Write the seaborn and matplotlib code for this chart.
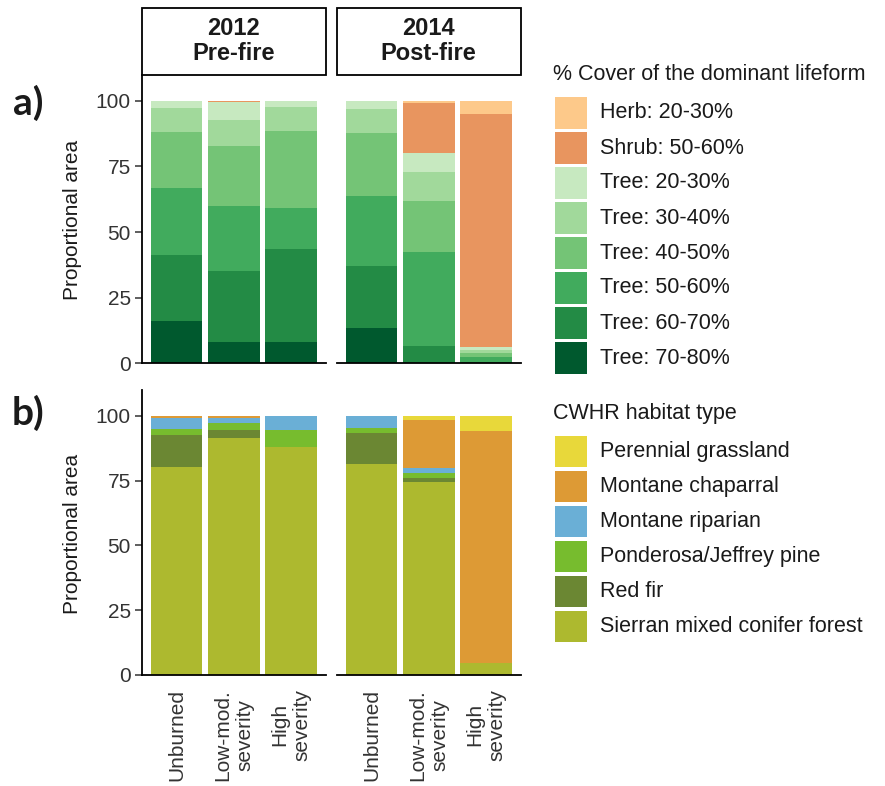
import numpy as np
import pandas as pd
import matplotlib
matplotlib.use("Agg")
import matplotlib.pyplot as plt
import seaborn as sns
from matplotlib.patches import Rectangle

# ---- data -------------------------------------------------------------
severity = ["Unburned", "Low-mod.\nseverity", "High\nseverity"]
periods = ["2012\nPre-fire", "2014\nPost-fire"]

# Each list: 2012 (Unburned, Low-mod., High), then 2014 (Unburned, Low-mod., High)
# (a) % cover of the dominant lifeform, stacking order bottom -> top
lifeform_classes = ["Tree: 70-80%", "Tree: 60-70%", "Tree: 50-60%", "Tree: 40-50%",
                    "Tree: 30-40%", "Tree: 20-30%", "Shrub: 50-60%", "Herb: 20-30%"]
tree_70_80 = [16.2, 8.0, 8.0, 13.6, 0.0, 0.0]
tree_60_70 = [25.2, 27.3, 35.6, 23.7, 6.6, 0.6]
tree_50_60 = [25.5, 24.8, 15.4, 26.4, 35.8, 2.0]
tree_40_50 = [21.4, 22.7, 29.5, 24.2, 19.6, 1.5]
tree_30_40 = [8.9, 9.8, 9.2, 8.9, 10.9, 1.0]
tree_20_30 = [2.8, 6.8, 2.3, 3.2, 7.1, 1.0]
shrub_50_60 = [0.0, 0.6, 0.0, 0.0, 19.0, 88.8]
herb_20_30 = [0.0, 0.0, 0.0, 0.0, 1.0, 5.1]
lifeform_values = [tree_70_80, tree_60_70, tree_50_60, tree_40_50,
                   tree_30_40, tree_20_30, shrub_50_60, herb_20_30]
lifeform_colors = ["#00592e", "#238b45", "#41ab5d", "#74c476",
                   "#a1d99b", "#c7e9c0", "#e8955f", "#fdc98a"]

# (b) CWHR habitat type, stacking order bottom -> top
habitat_classes = ["Sierran mixed conifer forest", "Red fir", "Ponderosa/Jeffrey pine",
                   "Montane riparian", "Montane chaparral", "Perennial grassland"]
sierran_mixed_conifer = [80.4, 91.6, 88.0, 81.3, 74.3, 4.8]
red_fir = [12.2, 3.0, 0.0, 12.0, 1.6, 0.0]
ponderosa_jeffrey = [2.2, 2.6, 6.5, 2.2, 2.2, 0.0]
montane_riparian = [4.5, 1.9, 5.5, 4.5, 1.7, 0.0]
montane_chaparral = [0.7, 0.9, 0.0, 0.0, 18.7, 89.5]
perennial_grassland = [0.0, 0.0, 0.0, 0.0, 1.5, 5.7]
habitat_values = [sierran_mixed_conifer, red_fir, ponderosa_jeffrey,
                  montane_riparian, montane_chaparral, perennial_grassland]
habitat_colors = ["#adb92f", "#6b8733", "#77bc2e", "#6aafd6", "#dd9a35", "#e8d83a"]


def long_table(classes, values):
    rows = []
    for cls, vals in zip(classes, values):
        for i, v in enumerate(vals):
            rows.append({"period": periods[i // 3], "severity": severity[i % 3],
                         "cls": cls, "value": v})
    df = pd.DataFrame(rows)
    df["cls"] = pd.Categorical(df["cls"], categories=classes, ordered=True)
    df = df.sort_values(["period", "severity", "cls"])
    df["top"] = df.groupby(["period", "severity"], observed=True)["value"].cumsum()
    return df


lifeform_df = long_table(lifeform_classes, lifeform_values)
habitat_df = long_table(habitat_classes, habitat_values)

# ---- style ------------------------------------------------------------
sns.set_style("ticks")
plt.rcParams["font.family"] = ["Liberation Sans", "DejaVu Sans"]

W, H = 885, 786
fig = plt.figure(figsize=(W / 100, H / 100), dpi=100)


def ax_rect(left, top, right, bottom):
    return [left / W, 1 - bottom / H, (right - left) / W, (bottom - top) / H]


def fx(x):
    return x / W


def fy(y):
    return 1 - y / H


TEXT = "#1a1a1a"
TICK = "#333333"


def draw_stack(ax, df, classes, colors, period):
    sub = df[df["period"] == period]
    # draw cumulative tops from the highest layer down so each segment shows
    for cls, col in reversed(list(zip(classes, colors))):
        layer = sub[sub["cls"] == cls]
        sns.barplot(data=layer, x="severity", y="top", order=severity,
                    color=col, saturation=1, width=0.9, errorbar=None,
                    linewidth=0, edgecolor="none", ax=ax)
    ax.set_xlim(-0.6, 2.6)
    ax.set_ylim(0, 110)
    ax.set_xlabel("")
    ax.set_ylabel("")
    for s in ("top", "right"):
        ax.spines[s].set_visible(False)
    for s in ("bottom", "left"):
        ax.spines[s].set_linewidth(1.3)
        ax.spines[s].set_color("black")
    ax.set_yticks([0, 25, 50, 75, 100])
    ax.tick_params(axis="y", length=5, width=1.1, color=TICK, labelsize=15,
                   labelcolor=TICK, pad=3)
    ax.tick_params(axis="x", length=0)


cols = [(142, 325.5), (337, 520.5)]
rows = [(74.5, 363.5), (390, 675)]

for r, (df, classes, colors) in enumerate([(lifeform_df, lifeform_classes, lifeform_colors),
                                           (habitat_df, habitat_classes, habitat_colors)]):
    for c, period in enumerate(periods):
        ax = fig.add_axes(ax_rect(cols[c][0], rows[r][0], cols[c][1], rows[r][1]))
        draw_stack(ax, df, classes, colors, period)
        if c == 1:
            ax.spines["left"].set_visible(False)
            ax.tick_params(axis="y", left=False, labelleft=False)
        if r == 0:
            ax.tick_params(axis="x", labelbottom=False)
        else:
            ax.set_xticks(range(3))
            ax.set_xticklabels(severity, rotation=90, ha="center", va="top",
                               multialignment="center", fontsize=15, color=TICK)
            ax.tick_params(axis="x", pad=10)

# facet strips
for c, period in enumerate(periods):
    l, rgt = cols[c]
    fig.add_artist(Rectangle((fx(l), fy(74.5)), fx(rgt) - fx(l), fy(8) - fy(74.5),
                             transform=fig.transFigure, facecolor="white",
                             edgecolor="black", linewidth=1.3))
    fig.text(fx((l + rgt) / 2), fy(41), period, ha="center", va="center",
             fontsize=17, fontweight="bold", color=TEXT, linespacing=1.1)

# y axis titles and panel tags
for r in range(2):
    top, bot = rows[r]
    fig.text(fx(72), fy((top + bot) / 2 + 1), "Proportional area", rotation=90,
             ha="center", va="center", fontsize=15, color=TEXT)
fig.text(fx(28), fy(103), "a)", ha="center", va="center", fontsize=28,
         fontweight="bold", family=["Lato", "DejaVu Sans"], color=TEXT)
fig.text(fx(28), fy(413), "b)", ha="center", va="center", fontsize=28,
         fontweight="bold", family=["Lato", "DejaVu Sans"], color=TEXT)


# legends
def draw_legend(title, classes, colors, title_y, first_top):
    fig.text(fx(553), fy(title_y), title, ha="left", va="center", fontsize=15.5, color=TEXT)
    for i, (cls, col) in enumerate(zip(reversed(classes), reversed(colors))):
        top = first_top + 35 * i
        fig.add_artist(Rectangle((fx(555), fy(top + 31.5)), fx(32), 31.5 / H,
                                 transform=fig.transFigure, facecolor=col,
                                 edgecolor="none"))
        fig.text(fx(600), fy(top + 16), cls, ha="left", va="center",
                 fontsize=15.5, color=TEXT)


draw_legend("% Cover of the dominant lifeform", lifeform_classes, lifeform_colors, 75, 97)
draw_legend("CWHR habitat type", habitat_classes, habitat_colors, 413, 435.5)

fig.savefig("out.png", dpi=100, facecolor="white")
